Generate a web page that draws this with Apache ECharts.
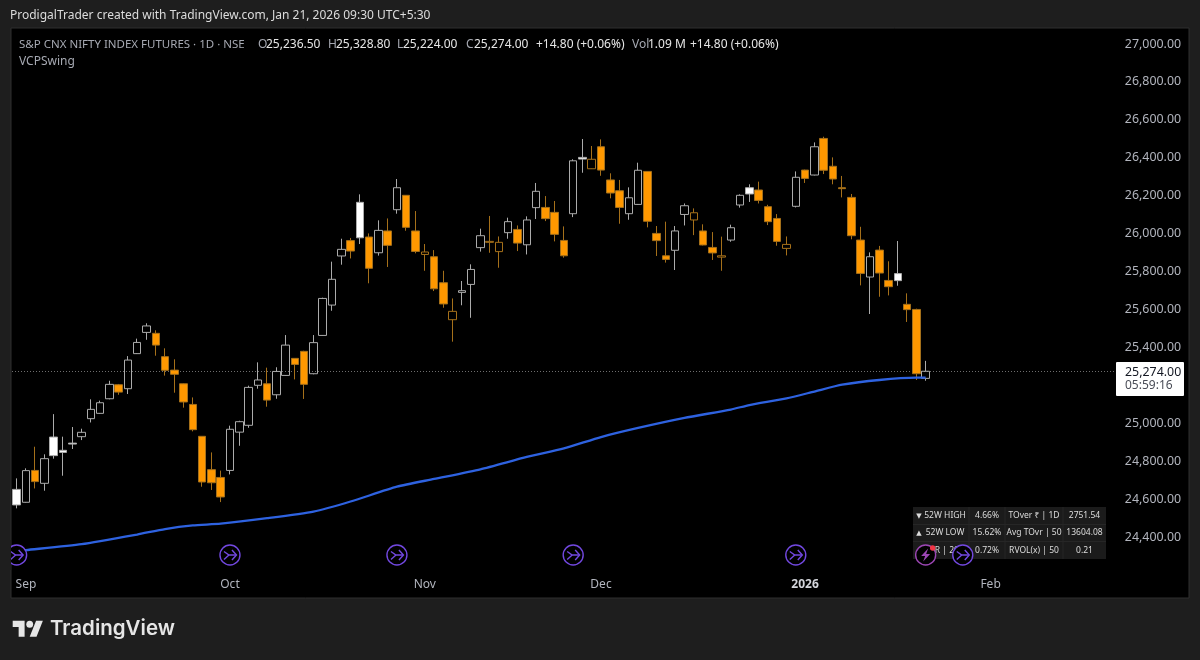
<!DOCTYPE html>
<html lang="en">
<head>
    <meta charset="UTF-8">
    <title>S&amp;P CNX NIFTY INDEX FUTURES</title>
    <style>
        html, body { margin: 0; padding: 0; background: #1e1e1e; }
        #main { width: 1200px; height: 660px; }
    </style>
</head>
<body>
    <div id="main"></div>
    <script src="https://cdn.jsdelivr.net/npm/echarts@6/dist/echarts.min.js"></script>
    <script>
        // daily candles
        var opens = [24651,24583,24751,24683,24927,24857,24895,24929,25024,25052,25129,25203,25182,25367,25479,25474,25351,25280,25208,25099,
            24931,24755,24714,24751,24953,24989,25200,25208,25150,25252,25342,25379,25261,25463,25623,25882,25963,26165,25982,25899,
            26014,26126,26202,26014,25890,25878,25741,25546,25690,25732,25926,25954,25905,26005,26022,25941,26137,26138,26112,25964,
            26105,26402,26342,26458,26283,26226,26105,26154,26328,26001,25883,25912,26101,26072,26014,25927,25876,25966,26151,26242,
            26230,26142,26080,25922,26144,26335,26309,26502,26355,26242,26191,25966,25771,25913,25753,25789,25627,25600,25236.5];
        var closes = [24569,24750,24692,24813,24829,24846,24890,24952,25073,25108,25205,25164,25333,25426,25513,25412,25279,25258,25112,24966,
            24690,24686,24611,24968,25008,25189,25228,25122,25273,25412,25310,25205,25425,25658,25759,25917,25908,25978,25817,26017,
            25938,26242,26033,25906,25903,25709,25629,25590,25699,25811,25989,25959,25954,26063,25950,26072,26223,26079,25996,25883,
            26384,26393,26392,26335,26214,26138,26189,26334,26065,25963,25864,26014,26147,26110,25940,25898,25883,26031,26202,26209,
            26175,26063,25959,25943,26297,26291,26458,26334,26288,26237,25989,25790,25878,25792,25720,25752,25599,25261,25274];
        var lows = [24551,24581,24656,24644,24813,24723,24864,24911,25004,25050,25126,25150,25154,25365,25440,25356,25251,25161,25082,24957,
            24665,24648,24584,24730,24881,24976,25182,25087,25129,25251,25231,25128,25258,25462,25593,25836,25869,25945,25738,25884,
            25824,26105,26015,25896,25804,25697,25609,25430,25622,25556,25905,25899,25820,25973,25908,25890,26077,26066,25959,25873,
            26087,26321,26341,26305,26186,26052,26073,26152,26033,25882,25847,25808,26043,25992,25938,25861,25804,25957,26137,26167,
            26159,26045,25936,25885,26138,26267,26307,26314,26260,26191,25970,25727,25576,25667,25674,25725,25534,25228,25224];
        var highs = [24709,24762,24876,24836,25048,24929,24980,24971,25126,25119,25224,25207,25354,25446,25527,25490,25395,25337,25210,25136,
            24932,24846,24750,24987,25013,25198,25321,25293,25295,25465,25344,25382,25465,25662,25852,25973,25977,26207,26001,26070,
            26080,26288,26203,26119,25945,25913,25804,25658,25750,25838,26026,26093,25985,26084,26043,26091,26267,26198,26172,26038,
            26392,26499,26462,26497,26318,26283,26244,26374,26330,26040,26063,26040,26159,26133,26049,26008,25984,26047,26207,26260,
            26274,26152,26103,25985,26328,26337,26481,26511,26402,26304,26209,26036,25901,25935,25854,25961,25685,25604,25328.8];

        // blue moving average, sampled at these candle positions
        var maIndex = [0,1,7,13,16,19,22,27,32,36,41,45,50,55,59,63,67,72,77,79,83,86,89,93,97,98];
        var maValues = [24326,24331,24362,24413,24442,24461,24470,24499,24534,24587,24665,24706,24757,24822,24867,24927,24975,25028,25072,25096,25131,25167,25203,25228,25240,25240];

        // time axis, the empty slots on the right leave room up to Feb and beyond
        var slotCount = 119;
        var monthIndex = [1,23,44,63,85,105];
        var monthNames = ['Sep','Oct','Nov','Dec','2026','Feb'];

        var priceTicks = { min: 24200, max: 27000, step: 200 };
        var lastClose = closes[closes.length - 1];

        // event markers sitting along the bottom of the pane
        var arrowIndex = [0,23,41,60,84,102];
        var boltIndex = [98];
        var markerPrice = 24305;

        var tableRows = [
            ['52W HIGH', '4.66%', 'TOver ₹ | 1D', '2751.54'],
            ['52W LOW', '15.62%', 'Avg TOvr | 50', '13604.08'],
            ['ADR | 20', '0.72%', 'RVOL(x) | 50', '0.21']
        ];

        var categories = [];
        for (var s = 0; s < slotCount; s++) {
            categories.push(String(s));
        }

        var ORANGE = '#ff9800', ORANGE_EDGE = '#a5701a', WHITE_EDGE = '#ababab';

        // filled when close < open, white when close is above previous close
        function candleStyle(i) {
            var hollow = closes[i] > opens[i];
            var white = i === 0 || closes[i] >= closes[i - 1];
            var fill = hollow ? 'transparent' : (white ? '#ffffff' : ORANGE);
            var edge = white ? WHITE_EDGE : ORANGE_EDGE;
            return { color: fill, color0: fill, borderColor: edge, borderColor0: edge, borderWidth: 1 };
        }

        var candles = opens.map(function (o, i) {
            return { value: [o, closes[i], lows[i], highs[i]], itemStyle: candleStyle(i) };
        });

        // Noto sits a pixel high with middle alignment, hence y + 1
        function text(x, y, str, color, size, extra) {
            var style = { x: x, y: y + 1, text: str, fill: color, fontSize: size, fontFamily: 'Noto Sans', verticalAlign: 'middle' };
            for (var k in extra) { style[k] = extra[k]; }
            return { type: 'text', z: 6, silent: true, style: style };
        }

        function legendItems() {
            var label = '#a6a9b2', value = '#e6e6e6';
            return [
                text(19, 44, 'S&P CNX NIFTY INDEX FUTURES · 1D · NSE', label, 11.5),
                text(258, 44, 'O', label, 12), text(266, 44, '25,236.50', value, 12),
                text(328, 44, 'H', label, 12), text(336, 44, '25,328.80', value, 12),
                text(397, 44, 'L', label, 12), text(403, 44, '25,224.00', value, 12),
                text(466, 44, 'C', label, 12), text(474, 44, '25,274.00', value, 12),
                text(536, 44, '+14.80 (+0.06%)', value, 12),
                text(632, 44, 'Vol', label, 12), text(648, 44, '1.09 M', value, 12),
                text(690, 44, '+14.80 (+0.06%)', value, 12),
                text(19, 61, 'VCPSwing', label, 12)
            ];
        }

        function tableItems() {
            var cols = [913, 969, 1005, 1063, 1106];
            var rows = [507, 524.5, 541.5, 559];
            var items = [{
                type: 'rect', z: 1, silent: true,
                shape: { x: cols[0], y: rows[0], width: cols[4] - cols[0], height: rows[3] - rows[0] },
                style: { fill: '#1b1b1b' }
            }];
            cols.slice(1, 4).forEach(function (x) {
                items.push({ type: 'line', z: 2, silent: true, shape: { x1: x, y1: rows[0], x2: x, y2: rows[3] }, style: { stroke: '#262626', lineWidth: 1 } });
            });
            rows.slice(1, 3).forEach(function (y) {
                items.push({ type: 'line', z: 2, silent: true, shape: { x1: cols[0], y1: y, x2: cols[4], y2: y }, style: { stroke: '#262626', lineWidth: 1 } });
            });
            tableRows.forEach(function (row, r) {
                var y = (rows[r] + rows[r + 1]) / 2 - 1;
                row.forEach(function (cell, c) {
                    var cx = (cols[c] + cols[c + 1]) / 2;
                    if (c === 0 && r < 2) { cx += 4; }
                    items.push(text(cx, y, cell, '#dcdcdc', 8.5, { align: 'center' }));
                });
            });
            items.push(text(919, 515, '▼', '#dcdcdc', 7, { align: 'center', fontFamily: 'DejaVu Sans' }));
            items.push(text(919, 532, '▲', '#dcdcdc', 7, { align: 'center', fontFamily: 'DejaVu Sans' }));
            return items;
        }

        function renderArrow(params, api) {
            var p = api.coord([api.value(0), api.value(1)]);
            var color = '#7248e0';
            return {
                type: 'group', x: p[0], y: p[1],
                children: [
                    { type: 'circle', shape: { cx: 0, cy: 0, r: 10 }, style: { fill: '#000', stroke: color, lineWidth: 1.4 } },
                    { type: 'polyline', shape: { points: [[-6, -3.5], [-1, 0], [6, 0]] }, style: { fill: null, stroke: color, lineWidth: 1.4 } },
                    { type: 'polyline', shape: { points: [[-6, 4.5], [-1, 0]] }, style: { fill: null, stroke: color, lineWidth: 1.4 } },
                    { type: 'polyline', shape: { points: [[2, -5], [6.5, 0], [2, 5]] }, style: { fill: null, stroke: color, lineWidth: 1.4 } }
                ]
            };
        }

        function renderBolt(params, api) {
            var p = api.coord([api.value(0), api.value(1)]);
            var color = '#9c46b4';
            return {
                type: 'group', x: p[0], y: p[1],
                children: [
                    { type: 'circle', shape: { cx: 0, cy: 0, r: 10 }, style: { fill: '#000', stroke: color, lineWidth: 1.4 } },
                    { type: 'polygon', shape: { points: [[2.5, -6.5], [-4.5, 1], [-0.5, 1], [-2.5, 6.5], [4.5, -1], [0.5, -1]] }, style: { fill: color } },
                    { type: 'circle', shape: { cx: 7, cy: -7, r: 2.7 }, style: { fill: '#f23645' } }
                ]
            };
        }

        var myChart = echarts.init(document.getElementById('main'));
        var option = {
            animation: false,
            backgroundColor: '#1e1e1e',
            grid: { left: 12, width: 1103.8, top: 44, height: 530.9 },
            xAxis: {
                type: 'category',
                data: categories,
                boundaryGap: true,
                axisLine: { show: false },
                axisTick: { show: false },
                splitLine: { show: false },
                axisLabel: {
                    color: '#b2b5be',
                    fontFamily: 'Noto Sans',
                    fontSize: 12,
                    margin: 4,
                    interval: function (index) {
                        return monthIndex.indexOf(index) >= 0;
                    },
                    formatter: function (value, index) {
                        var name = monthNames[monthIndex.indexOf(index)];
                        return name === '2026' ? '{bold|' + name + '}' : name;
                    },
                    rich: { bold: { color: '#d4d6dc', fontWeight: 'bold', fontFamily: 'Noto Sans', fontSize: 12 } }
                }
            },
            yAxis: {
                type: 'value',
                position: 'right',
                min: priceTicks.min,
                max: priceTicks.max,
                interval: priceTicks.step,
                axisLine: { show: false },
                axisTick: { show: false },
                splitLine: { show: false },
                axisLabel: {
                    color: '#b2b5be',
                    fontFamily: 'Noto Sans',
                    fontSize: 12.4,
                    margin: 9,
                    padding: [2, 0, 0, 0],
                    formatter: function (v) {
                        if (v === priceTicks.min) { return ''; }
                        return v.toLocaleString('en-US', { minimumFractionDigits: 2 });
                    }
                }
            },
            series: [
                {
                    type: 'candlestick',
                    barWidth: 8,
                    data: candles,
                    markLine: {
                        silent: true,
                        z: 1,
                        symbol: 'none',
                        label: { show: false },
                        lineStyle: { color: '#6e6e6e', width: 1, type: [1, 2] },
                        data: [{ yAxis: lastClose }]
                    }
                },
                {
                    type: 'line',
                    data: maIndex.map(function (i, k) { return [i, maValues[k]]; }),
                    smooth: 0.2,
                    showSymbol: false,
                    lineStyle: { color: '#2e62e0', width: 2.3 },
                    z: 3
                },
                {
                    type: 'custom',
                    z: 10,
                    data: arrowIndex.map(function (i) { return [i, markerPrice]; }),
                    encode: { x: 0, y: 1 },
                    renderItem: renderArrow
                },
                {
                    type: 'custom',
                    z: 10,
                    data: boltIndex.map(function (i) { return [i, markerPrice]; }),
                    encode: { x: 0, y: 1 },
                    renderItem: renderBolt
                }
            ],
            graphic: [
                // black pane behind everything
                { type: 'rect', z: -1, silent: true, shape: { x: 11, y: 28, width: 1178, height: 570 }, style: { fill: '#000', stroke: '#2e2e2e', lineWidth: 1 } },
                // page colour left of the pane hides the clipped marker
                { type: 'rect', z: 20, silent: true, shape: { x: 0, y: 540, width: 11, height: 30 }, style: { fill: '#1e1e1e' } },
                text(10, 15, 'ProdigalTrader created with TradingView.com, Jan 21, 2026 09:30 UTC+5:30', '#dcdcdc', 12),
                // price tag
                { type: 'rect', z: 20, silent: true, shape: { x: 1116, y: 362, width: 68, height: 34, r: 1 }, style: { fill: '#fff' } },
                { type: 'text', z: 21, silent: true, style: { x: 1125, y: 372, text: '25,274.00', fill: '#131722', fontSize: 12.4, fontFamily: 'Noto Sans', verticalAlign: 'middle' } },
                { type: 'text', z: 21, silent: true, style: { x: 1125, y: 386, text: '05:59:16', fill: '#4a4d57', fontSize: 12, fontFamily: 'Noto Sans', verticalAlign: 'middle' } },
                // footer logo
                {
                    type: 'group', x: 12.7, y: 617.1, scaleX: 0.85, scaleY: 0.889, silent: true,
                    children: [
                        { type: 'polygon', z: 6, shape: { points: [[0, 4], [14, 4], [14, 22], [7, 22], [7, 11], [0, 11]] }, style: { fill: '#e6e6e6' } },
                        { type: 'polygon', z: 6, shape: { points: [[20, 22], [27.5, 4], [35.5, 4], [28, 22]] }, style: { fill: '#e6e6e6' } },
                        { type: 'circle', z: 6, shape: { cx: 20, cy: 8, r: 4 }, style: { fill: '#e6e6e6' } }
                    ]
                },
                text(50, 628, 'TradingView', '#e6e6e6', 20.5, { fontFamily: 'Inter', fontWeight: 600 })
            ].concat(legendItems(), tableItems())
        };
        myChart.setOption(option);
    </script>
</body>
</html>
